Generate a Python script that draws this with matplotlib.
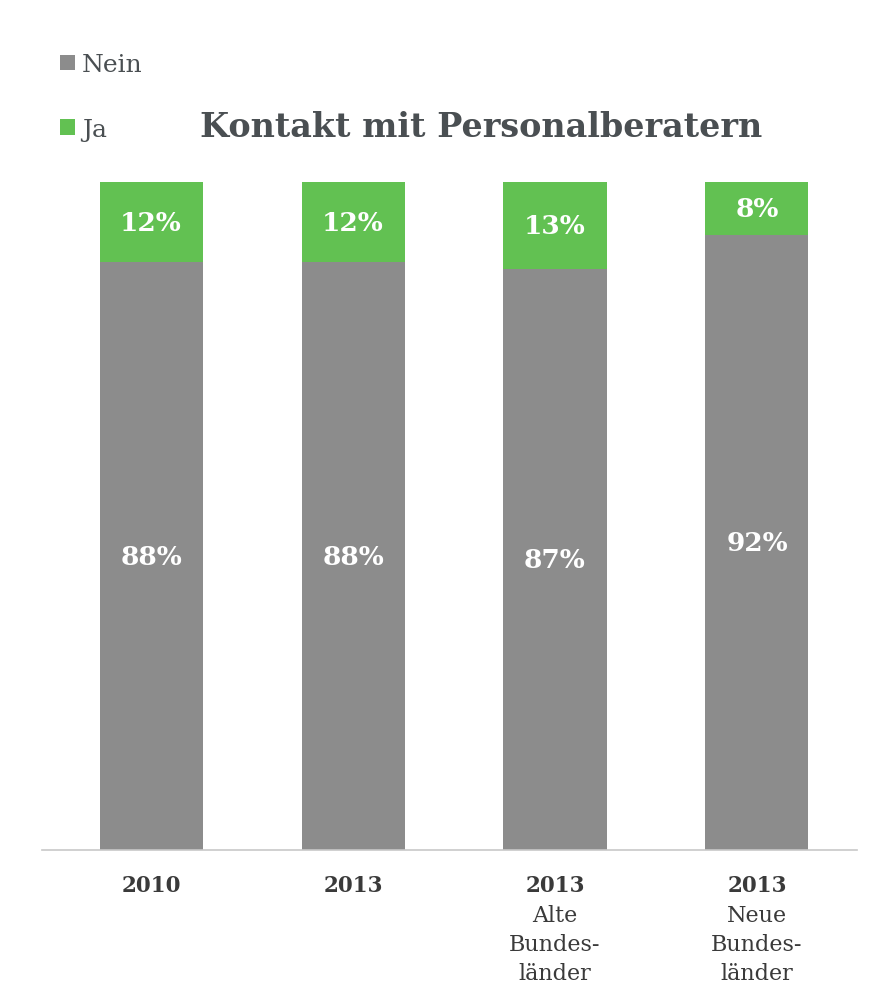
import matplotlib
matplotlib.use("Agg")
import matplotlib.pyplot as plt
import numpy as np

categories = ["2010", "2013", "2013", "2013"]
subtitles = ["", "", "Alte\nBundes-\nländer", "Neue\nBundes-\nländer"]
nein = [88, 88, 87, 92]
ja = [12, 12, 13, 8]

GRAY = "#8c8c8c"
GREEN = "#62c152"
TEXT = "#4a4f52"

plt.rcParams["font.family"] = ["DejaVu Serif"]

fig = plt.figure(figsize=(8.82, 9.95), dpi=100)
ax = fig.add_axes([0.0476, 0.1447, 0.924, 0.6714])

x = np.arange(len(categories))
width = 0.51
b1 = ax.bar(x, nein, width, color=GRAY, label="Nein")
b2 = ax.bar(x, ja, width, bottom=nein, color=GREEN, label="Ja")

for xi, n, j in zip(x, nein, ja):
    ax.text(xi, n / 2, f"{n}%", ha="center", va="center", color="white",
            fontsize=19, fontweight="bold")
    ax.text(xi, n + j / 2, f"{j}%", ha="center", va="center", color="white",
            fontsize=19, fontweight="bold")

ax.set_xlim(-0.54, 3.495)
ax.set_ylim(0, 100)
ax.set_yticks([])
ax.set_xticks(x)
ax.set_xticklabels(categories, fontsize=15.5, fontweight="bold", color="#3a3a3a")
ax.tick_params(axis="x", length=0, pad=17)
for s in ["top", "right", "left"]:
    ax.spines[s].set_visible(False)
ax.spines["bottom"].set_color("#c8c8c8")
ax.spines["bottom"].set_linewidth(1.2)

for xi, sub in zip(x, subtitles):
    if sub:
        ax.annotate(sub, xy=(xi, 0), xycoords=("data", "axes fraction"),
                    xytext=(0, -39), textcoords="offset points",
                    ha="center", va="top", fontsize=16, color="#3a3a3a",
                    linespacing=1.42)

fig.text(0.546, 0.872, "Kontakt mit Personalberatern", ha="center", va="center",
         fontsize=24, fontweight="bold", color=TEXT)

leg = fig.legend([b1, b2], ["Nein", "Ja"], loc="upper left",
                 bbox_to_anchor=(0.042, 0.968), frameon=False, fontsize=18,
                 handlelength=0.6, handleheight=0.6, handletextpad=0.3,
                 labelspacing=1.65, labelcolor=TEXT)

fig.savefig("out.png", dpi=100)
